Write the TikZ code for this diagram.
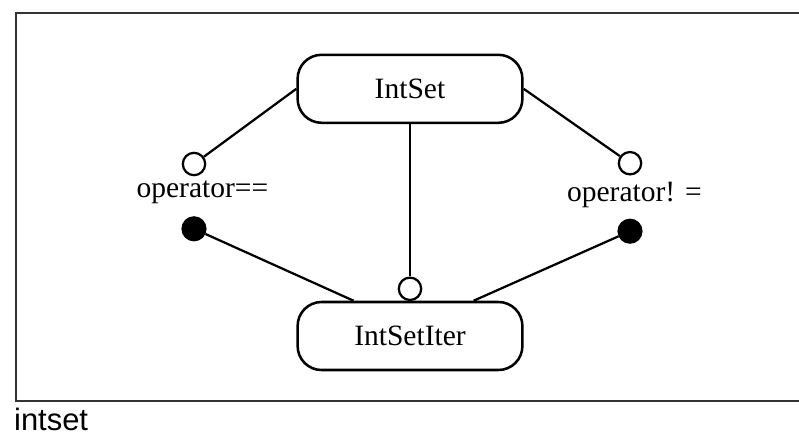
\documentclass[tikz,border=0pt]{standalone}
\usepackage{fontspec}
\setmainfont{Liberation Serif}
\setsansfont{Liberation Sans}

\begin{document}
\begin{tikzpicture}[
        every node/.style={font=\fontsize{10.5}{12}\selectfont},
        classe/.style={draw, line width=0.9pt, rounded corners=0.3cm,
            minimum width=2.81cm, minimum height=0.85cm, inner sep=0pt},
        aberto/.style={circle, draw, line width=0.8pt, minimum size=0.28cm, inner sep=0pt},
        cheio/.style={circle, draw, fill=black, minimum size=0.3cm, inner sep=0pt},
        liga/.style={line width=0.8pt}
    ]

        \useasboundingbox (0,0) rectangle (9.9875,5.45);

        %--------------------------------
        % moldura
        %--------------------------------
        \draw[line width=0.7pt, black!80] (9.9875,5.29) -- (0.2,5.29) -- (0.2,0.44) -- (9.9875,0.44);
        \node[font=\sffamily\fontsize{11}{13}\selectfont, anchor=west, inner sep=0pt] (nome) at (0.17,0.21) {intset};

        %--------------------------------
        % classes
        %--------------------------------
        \node[classe] (IntSet) at (5.125,4.34) {IntSet};
        \node[classe] (IntSetIter) at (5.125,1.25) {IntSetIter};

        %--------------------------------
        % operadores
        %--------------------------------
        \node[aberto] (ae) at (2.425,3.40) {};
        \node (te) at (2.53,3.04) {operator==};
        \node[cheio] (ce) at (2.425,2.59) {};

        \node[aberto] (ad) at (7.875,3.41) {};
        \node (td) at (7.93,3.01) {operator! =};
        \node[cheio] (cd) at (7.875,2.56) {};

        \node[aberto] (ai) at (5.125,1.84) {};

        \draw[liga] (ae) -- (IntSet.west);
        \draw[liga] (ad) -- (IntSet.east);
        \draw[liga] (IntSet.south) -- (ai);
        \draw[liga] (ce) -- (IntSetIter.148);
        \draw[liga] (cd) -- (IntSetIter.29);

    \end{tikzpicture}
\end{document}
